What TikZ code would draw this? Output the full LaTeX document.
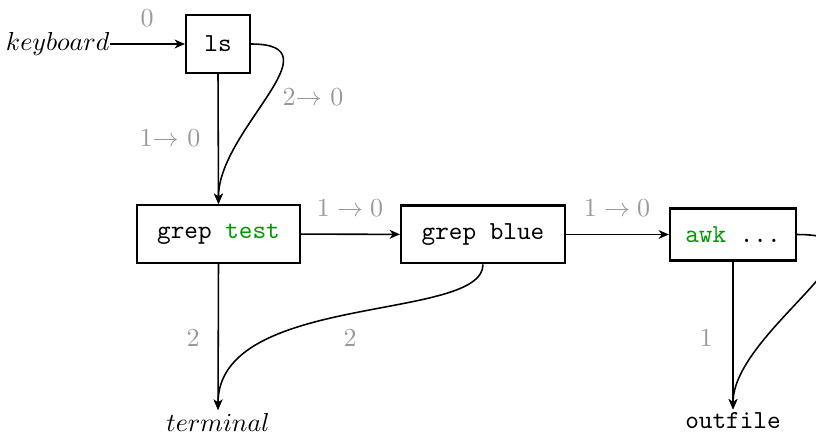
\documentclass[tikz,border=0pt]{standalone}
\usetikzlibrary{arrows.meta}
\definecolor{cmdgreen}{rgb}{0,0.6,0}
\tikzset{
  cmdbox/.style={draw, thick, rectangle, font=\ttfamily, inner sep=0pt, minimum height=22.3pt},
  fdlabel/.style={text=black!40, inner sep=1pt},
  flow/.style={semithick, -{Stealth[length=4pt, width=3.4pt, inset=1.2pt]}},
  endpoint/.style={anchor=north, inner sep=0pt}
}
\begin{document}
\begin{tikzpicture}[x=0.385pt, y=-0.385pt]
  \useasboundingbox (0,0) rectangle (816,434);

  % processes
  \node[cmdbox, minimum width=24.6pt] (ls) at (218,44) {ls};
  \node[cmdbox, minimum width=62.7pt] (gtest) at (218.5,234) {grep \textcolor{cmdgreen}{test}};
  \node[cmdbox, minimum width=63.1pt] (gblue) at (483,234.5) {grep blue};
  \node[cmdbox, minimum width=48.5pt, minimum height=20pt] (awk) at (733,234.5) {\textcolor{cmdgreen}{awk} ...};

  % sources and sinks
  \node[inner sep=0pt, anchor=east] (kbd) at (110,44) {$keyboard$};
  \node[endpoint] (term) at (218,413) {$terminal$};
  \node[endpoint, font=\ttfamily] (out) at (733,412) {outfile};
  \coordinate (termin) at ([yshift=1.2pt]term.north);
  \coordinate (outin) at ([yshift=1pt]out.north);

  % stdin of ls
  \draw[flow] (kbd) -- (ls);
  \node[fdlabel] (l0) at (147,18) {0};

  % ls into grep test
  \draw[flow] (ls.south) -- (gtest.north);
  \node[fdlabel] (l1) at (170,138) {1$\rightarrow$ 0};
  \draw[flow] (ls.east) .. controls (340,44) and (218,130) .. (gtest.north);
  \node[fdlabel] (l2) at (313,97) {2$\rightarrow$ 0};

  % the pipeline
  \draw[flow] (gtest) -- (gblue);
  \node[fdlabel] (l3) at (350,208) {$1\rightarrow 0$};
  \draw[flow] (gblue) -- (awk);
  \node[fdlabel] (l4) at (617,208) {$1\rightarrow 0$};

  % stderr to the terminal
  \draw[flow] (gtest.south) -- (termin);
  \node[fdlabel] (l5) at (193,338) {2};
  \draw[flow] (gblue.south) .. controls (483,322) and (218,292) .. (termin);
  \node[fdlabel] (l6) at (350,338) {2};

  % awk output
  \draw[flow] (awk.south) -- (outin);
  \node[fdlabel] (l7) at (706,338) {1};
  \draw[flow] (awk.east) .. controls (910,234.5) and (733,330) .. (outin);
  \node[fdlabel] (l8) at (822,300) {2};
\end{tikzpicture}
\end{document}
